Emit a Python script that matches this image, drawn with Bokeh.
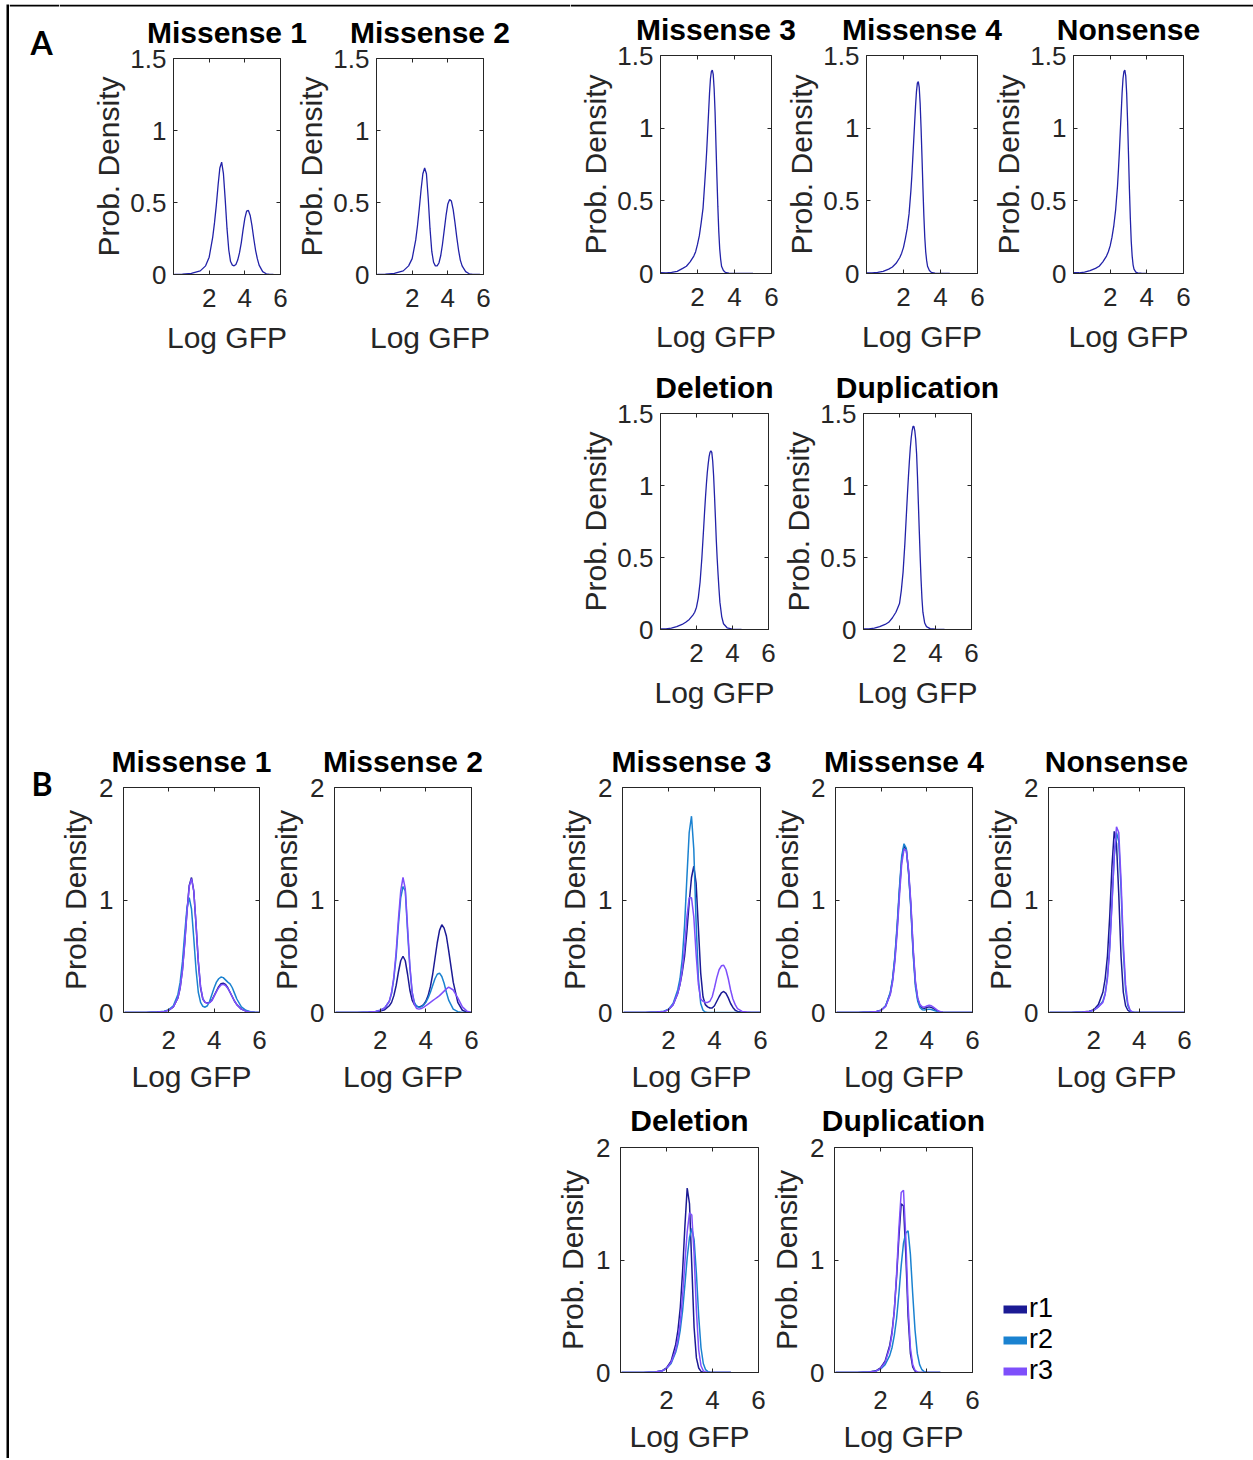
from bokeh.plotting import figure
from bokeh.models import (Range1d, FixedTicker, LinearAxis, Legend, LegendItem,
                          Spacer, NumeralTickFormatter)
from bokeh.core.properties import value
from bokeh.layouts import row, column
from bokeh.embed import file_html
from bokeh.resources import INLINE

nan = float("nan")

# ---------------- data ----------------
PANEL_TITLES = ["Missense 1", "Missense 2", "Missense 3", "Missense 4",
                "Nonsense", "Deletion", "Duplication"]
REPLICATES = ["r1", "r2", "r3"]
X_TICKS = [2, 4, 6]
A_Y_TICKS = [0, 0.5, 1, 1.5]
B_Y_TICKS = [0, 1, 2]

# Panel A (pooled densities)
A_BI_X = [0.05, 0.5, 1.0, 1.5, 1.8, 2.0, 2.2, 2.3, 2.4, 2.5, 2.6, 2.7, 2.8, 2.9, 3.0,
          3.1, 3.2, 3.3, 3.4, 3.5, 3.6, 3.7, 3.8, 3.9, 4.0, 4.1, 4.2, 4.3, 4.4, 4.5,
          4.6, 4.7, 4.8, 5.0, 5.2, 5.4, 5.6, 5.8]
A_MIS1_Y = [0.0, 0.002, 0.008, 0.025, 0.06, 0.12, 0.26, 0.36, 0.48, 0.62, 0.74, 0.78,
            0.70, 0.52, 0.32, 0.17, 0.09, 0.065, 0.06, 0.07, 0.10, 0.15, 0.22, 0.31,
            0.39, 0.44, 0.445, 0.41, 0.34, 0.25, 0.17, 0.11, 0.065, 0.02, 0.005,
            0.001, 0.0, nan]
A_MIS2_Y = [0.0, 0.002, 0.008, 0.025, 0.06, 0.11, 0.24, 0.34, 0.46, 0.59, 0.70, 0.74,
            0.70, 0.53, 0.32, 0.16, 0.085, 0.06, 0.06, 0.08, 0.13, 0.21, 0.31, 0.41,
            0.49, 0.52, 0.51, 0.45, 0.36, 0.26, 0.17, 0.10, 0.06, 0.02, 0.005,
            0.001, 0.0, 0.0]

A_UNI_X = [0.02, 0.3, 0.6, 0.9, 1.2, 1.4, 1.6, 1.8, 1.9, 2.0, 2.1, 2.2, 2.3, 2.4, 2.45,
           2.5, 2.55, 2.6, 2.65, 2.7, 2.75, 2.8, 2.85, 2.9, 2.95, 3.0, 3.05, 3.1, 3.15,
           3.2, 3.25, 3.3, 3.4, 3.5, 3.7, 4.0, 4.5, 5.0]
A_MIS3_Y = [0.005, 0.004, 0.008, 0.015, 0.035, 0.05, 0.08, 0.12, 0.15, 0.20, 0.26, 0.35,
            0.45, 0.64, 0.74, 0.85, 0.98, 1.11, 1.24, 1.34, 1.39, 1.40, 1.37, 1.27,
            1.11, 0.88, 0.66, 0.46, 0.29, 0.17, 0.10, 0.05, 0.02, 0.008, 0.003,
            0.001, 0.0, 0.0]
A_MIS4_Y = [0.004, 0.004, 0.008, 0.015, 0.03, 0.045, 0.07, 0.11, 0.14, 0.18, 0.24, 0.31,
            0.41, 0.57, 0.67, 0.79, 0.91, 1.03, 1.15, 1.25, 1.31, 1.32, 1.28, 1.17,
            1.00, 0.80, 0.59, 0.40, 0.25, 0.15, 0.09, 0.05, 0.02, 0.008, 0.003,
            0.001, 0.0, nan]
A_NON_Y = [0.005, 0.005, 0.01, 0.02, 0.035, 0.05, 0.08, 0.12, 0.15, 0.19, 0.25, 0.33,
           0.44, 0.60, 0.71, 0.83, 0.97, 1.10, 1.24, 1.34, 1.39, 1.40, 1.36, 1.24,
           1.05, 0.82, 0.58, 0.38, 0.22, 0.12, 0.06, 0.03, 0.01, 0.004, 0.002,
           0.001, nan, nan]
A_DEL_Y = [0.004, 0.005, 0.01, 0.02, 0.035, 0.05, 0.07, 0.10, 0.12, 0.155, 0.22, 0.33,
           0.50, 0.71, 0.82, 0.92, 1.01, 1.09, 1.15, 1.20, 1.23, 1.24, 1.23, 1.17,
           1.07, 0.93, 0.78, 0.62, 0.49, 0.38, 0.28, 0.19, 0.09, 0.04, 0.012,
           0.003, 0.001, nan]
A_DUP_Y = [0.004, 0.005, 0.01, 0.02, 0.035, 0.05, 0.08, 0.12, 0.15, 0.18, 0.27, 0.40,
           0.60, 0.84, 0.96, 1.07, 1.17, 1.26, 1.33, 1.38, 1.41, 1.41, 1.38, 1.32,
           1.22, 1.06, 0.87, 0.68, 0.50, 0.34, 0.21, 0.12, 0.045, 0.02, 0.006,
           0.002, 0.001, nan]

# Panel B (replicates r1, r2, r3)
B_X = [0.05, 0.5, 1.0, 1.5, 1.8, 2.0, 2.2, 2.4, 2.5, 2.6, 2.7, 2.8, 2.9, 3.0, 3.1,
       3.2, 3.3, 3.4, 3.5, 3.6, 3.7, 3.8, 3.9, 4.0, 4.1, 4.2, 4.3, 4.4, 4.5, 4.6,
       4.7, 4.8, 4.9, 5.0, 5.2, 5.4, 5.6, 5.8, 6.0]
B_MIS1_R1 = [0, 0, 0.001, 0.004, 0.01, 0.02, 0.05, 0.13, 0.22, 0.38, 0.62, 0.90, 1.13,
             1.20, 1.08, 0.78, 0.45, 0.22, 0.12, 0.09, 0.085, 0.09, 0.11, 0.15, 0.19,
             0.23, 0.255, 0.26, 0.25, 0.22, 0.18, 0.14, 0.10, 0.07, 0.03, 0.012,
             0.004, 0.001, 0]
B_MIS1_R2 = [0, 0, 0.001, 0.005, 0.012, 0.025, 0.06, 0.16, 0.27, 0.45, 0.70, 0.93, 1.02,
             0.92, 0.66, 0.38, 0.18, 0.09, 0.055, 0.047, 0.06, 0.10, 0.16, 0.22, 0.27,
             0.30, 0.315, 0.31, 0.29, 0.27, 0.255, 0.22, 0.17, 0.12, 0.05, 0.02,
             0.006, 0.002, 0]
B_MIS1_R3 = [0, 0, 0.001, 0.004, 0.01, 0.02, 0.05, 0.13, 0.22, 0.37, 0.61, 0.89, 1.12,
             1.19, 1.08, 0.79, 0.46, 0.23, 0.12, 0.09, 0.082, 0.088, 0.105, 0.145,
             0.185, 0.22, 0.245, 0.25, 0.24, 0.215, 0.18, 0.14, 0.10, 0.07, 0.03,
             0.012, 0.004, 0.001, 0]
B_MIS2_R1 = [0, 0, 0.001, 0.003, 0.007, 0.012, 0.025, 0.06, 0.09, 0.15, 0.24, 0.36, 0.46,
             0.50, 0.46, 0.34, 0.20, 0.11, 0.07, 0.055, 0.05, 0.055, 0.07, 0.10, 0.15,
             0.23, 0.34, 0.48, 0.62, 0.73, 0.78, 0.75, 0.68, 0.55, 0.27, 0.09, 0.02,
             0.003, 0]
B_MIS2_R2 = [0, 0, 0.001, 0.004, 0.01, 0.02, 0.04, 0.10, 0.17, 0.30, 0.50, 0.78, 1.02,
             1.12, 1.08, 0.72, 0.40, 0.18, 0.09, 0.055, 0.047, 0.05, 0.065, 0.09, 0.13,
             0.18, 0.24, 0.30, 0.34, 0.35, 0.32, 0.26, 0.18, 0.11, 0.03, 0.007, 0.001,
             0, 0]
B_MIS2_R3 = [0, 0, 0.001, 0.004, 0.01, 0.02, 0.04, 0.10, 0.18, 0.32, 0.54, 0.83, 1.08,
             1.20, 1.10, 0.76, 0.42, 0.18, 0.07, 0.035, 0.03, 0.035, 0.045, 0.06, 0.075,
             0.09, 0.105, 0.12, 0.135, 0.15, 0.17, 0.19, 0.21, 0.225, 0.20, 0.13, 0.05,
             0.012, 0]
B_MIS3_R1 = [0, 0, 0.001, 0.004, 0.01, 0.025, 0.07, 0.17, 0.25, 0.36, 0.50, 0.72, 0.98,
             1.20, 1.30, 1.15, 0.75, 0.35, 0.14, 0.07, 0.05, 0.04, 0.04, 0.06, 0.10,
             0.14, 0.175, 0.187, 0.17, 0.13, 0.08, 0.045, 0.02, 0.01, 0.003, 0.001,
             0, 0, 0]
B_MIS3_R2 = [0, 0, 0.001, 0.005, 0.012, 0.03, 0.08, 0.20, 0.30, 0.48, 0.78, 1.20, 1.60,
             1.745, 1.45, 0.80, 0.30, 0.08, 0.02, 0.004, 0.001, 0, 0, 0, 0, 0, 0, 0,
             0, 0, 0, 0, 0, 0, 0, 0, 0, 0, 0]
B_MIS3_R3 = [0, 0, 0.001, 0.004, 0.01, 0.025, 0.07, 0.17, 0.25, 0.38, 0.58, 0.85, 1.02,
             1.02, 0.85, 0.52, 0.25, 0.12, 0.10, 0.09, 0.09, 0.10, 0.14, 0.22, 0.31,
             0.38, 0.415, 0.42, 0.38, 0.30, 0.20, 0.12, 0.07, 0.035, 0.01, 0.004,
             0.001, 0, 0]
B_MIS4_R1 = [0, 0, 0.001, 0.004, 0.01, 0.02, 0.06, 0.17, 0.29, 0.48, 0.75, 1.08, 1.36,
             1.48, 1.45, 1.25, 0.95, 0.55, 0.26, 0.12, 0.06, 0.04, 0.038, 0.045, 0.05,
             0.045, 0.035, 0.02, 0.01, 0.005, 0.002, 0.001, 0, 0, 0, 0, 0, 0, 0]
B_MIS4_R2 = [0, 0, 0.001, 0.004, 0.01, 0.02, 0.06, 0.18, 0.30, 0.50, 0.78, 1.11, 1.39,
             1.50, 1.46, 1.24, 0.92, 0.52, 0.23, 0.10, 0.045, 0.025, 0.022, 0.026, 0.03,
             0.026, 0.02, 0.012, 0.006, 0.003, 0.001, 0, 0, 0, 0, 0, 0, 0, 0]
B_MIS4_R3 = [0, 0, 0.001, 0.004, 0.01, 0.02, 0.055, 0.16, 0.27, 0.45, 0.71, 1.03, 1.32,
             1.45, 1.44, 1.27, 0.98, 0.58, 0.28, 0.13, 0.07, 0.05, 0.048, 0.058, 0.065,
             0.06, 0.045, 0.03, 0.015, 0.007, 0.003, 0.001, 0, 0, 0, 0, 0, 0, 0]
B_NON_R1 = [0, 0, 0.001, 0.005, 0.012, 0.025, 0.07, 0.18, 0.30, 0.50, 0.85, 1.30, 1.61,
            1.50, 1.05, 0.50, 0.18, 0.06, 0.02, 0.005, 0.001, 0, 0, 0, 0, 0, 0, 0, 0,
            0, 0, 0, 0, 0, 0, 0, 0, 0, 0]
B_NON_R2 = [0, 0, 0.001, 0.004, 0.01, 0.02, 0.05, 0.10, 0.17, 0.32, 0.58, 0.98, 1.38,
            1.60, 1.52, 1.10, 0.55, 0.20, 0.06, 0.015, 0.004, 0.001, 0, 0, 0, 0, 0, 0,
            0, 0, 0, 0, 0, 0, 0, 0, 0, 0, 0]
B_NON_R3 = [0, 0, 0.001, 0.004, 0.01, 0.02, 0.05, 0.09, 0.16, 0.30, 0.56, 0.96, 1.40,
            1.65, 1.60, 1.18, 0.62, 0.25, 0.08, 0.02, 0.005, 0.001, 0, 0, 0, 0, 0, 0,
            0, 0, 0, 0, 0, 0, 0, 0, 0, 0, 0]
B_DEL_R1 = [0, 0, 0.001, 0.005, 0.015, 0.04, 0.10, 0.25, 0.38, 0.58, 0.90, 1.30, 1.64,
            1.50, 0.95, 0.40, 0.13, 0.04, 0.01, 0.003, 0.001, 0, 0, 0, 0, 0, 0, 0, 0,
            0, 0, 0, nan, nan, nan, nan, nan, nan, nan]
B_DEL_R2 = [0, 0, 0.001, 0.005, 0.013, 0.035, 0.08, 0.18, 0.26, 0.38, 0.55, 0.78, 1.02,
            1.20, 1.28, 1.18, 0.88, 0.50, 0.22, 0.08, 0.025, 0.008, 0.002, 0, 0, 0, 0,
            0, 0, 0, 0, 0, nan, nan, nan, nan, nan, nan, nan]
B_DEL_R3 = [0, 0, 0.001, 0.005, 0.013, 0.035, 0.09, 0.20, 0.30, 0.45, 0.68, 0.98, 1.25,
            1.42, 1.40, 1.05, 0.55, 0.20, 0.06, 0.015, 0.004, 0.001, 0, 0, 0, 0, 0, 0,
            0, 0, 0, 0, nan, nan, nan, nan, nan, nan, nan]
B_DUP_R1 = [0, 0, 0.001, 0.005, 0.015, 0.04, 0.10, 0.24, 0.36, 0.55, 0.85, 1.20, 1.50,
            1.48, 1.05, 0.50, 0.17, 0.05, 0.012, 0.003, 0.001, 0, 0, 0, 0, 0, 0, 0, 0,
            0, nan, nan, nan, nan, nan, nan, nan, nan, nan]
B_DUP_R2 = [0, 0, 0.001, 0.004, 0.012, 0.03, 0.07, 0.15, 0.22, 0.33, 0.48, 0.70, 0.95,
            1.15, 1.24, 1.26, 1.05, 0.70, 0.38, 0.17, 0.07, 0.025, 0.008, 0.002, 0, 0,
            0, 0, 0, 0, nan, nan, nan, nan, nan, nan, nan, nan, nan]
B_DUP_R3 = [0, 0, 0.001, 0.004, 0.012, 0.035, 0.09, 0.22, 0.34, 0.55, 0.88, 1.28, 1.60,
            1.62, 1.20, 0.60, 0.22, 0.07, 0.02, 0.005, 0.001, 0, 0, 0, 0, 0, 0, 0, 0,
            0, nan, nan, nan, nan, nan, nan, nan, nan, nan]

# ---------------- styling ----------------
A_COLOR = "#2222a8"
REP_COLORS = ["#1b1a94", "#1a82d0", "#7e4ffb"]
FONT = "Liberation Sans"
GRAY = "#262626"
CONTENT_W = 1244
CONTENT_X = 9          # page x of the content column


def bare(w, h, bg="white", top_line=False):
    f = figure(width=w, height=h, min_border=0, x_axis_location=None,
               y_axis_location=None, title_location=None, outline_line_color=None,
               x_range=Range1d(0, w), y_range=Range1d(0, h),
               background_fill_color=bg, border_fill_color=bg,
               output_backend="svg", toolbar_location=None)
    f.grid.visible = False
    if top_line:   # the figure's black frame rule along the top edge
        f.quad(left=[0], right=[w], bottom=[h - 2], top=[h], fill_color="black",
               line_color=None)
    return f


def tick_only_axis(ticks):
    return LinearAxis(ticker=FixedTicker(ticks=ticks), major_tick_in=4, major_tick_out=0,
                      minor_tick_in=0, minor_tick_out=0, axis_line_color=None,
                      major_tick_line_color=GRAY, major_label_text_font_size="1px",
                      major_label_text_color=None, major_label_standoff=0)


def panel(fw, fh, bl, br, bt, bb, ymax, yticks, big):
    p = figure(frame_width=fw, frame_height=fh,
               x_range=Range1d(0, 6), y_range=Range1d(0, ymax),
               min_border_left=bl, min_border_right=br,
               min_border_top=bt, min_border_bottom=bb, title_location=None,
               output_backend="svg", toolbar_location=None)
    p.grid.visible = False
    p.outline_line_color = GRAY
    for ax in (p.xaxis[0], p.yaxis[0]):
        ax.major_tick_in = 4
        ax.major_tick_out = 0
        ax.minor_tick_in = 0
        ax.minor_tick_out = 0
        ax.axis_line_color = GRAY
        ax.major_tick_line_color = GRAY
        ax.major_label_text_font = FONT
        ax.major_label_text_font_size = "26px"
        ax.major_label_text_color = GRAY
        ax.axis_label_text_font = FONT
        ax.axis_label_text_font_size = "30px"
        ax.axis_label_text_font_style = "normal"
        ax.axis_label_text_color = GRAY
    p.xaxis.ticker = FixedTicker(ticks=X_TICKS)
    p.xaxis.axis_label = "Log GFP"
    p.xaxis.major_label_standoff = 18 if big else 14
    p.xaxis.axis_label_standoff = 8 if big else 11
    p.yaxis.ticker = FixedTicker(ticks=yticks)
    p.yaxis.formatter = NumeralTickFormatter(format="0.[0]")
    p.yaxis.axis_label = "Prob. Density"
    p.yaxis.major_label_standoff = 10 if big else 7
    p.yaxis.axis_label_standoff = 4 if big else 2
    p.add_layout(tick_only_axis(X_TICKS), "above")
    p.add_layout(tick_only_axis(yticks), "right")
    return p


def strip(width, height, origin_x, items, top_line=False):
    """Row of panel titles; items are (title, frame_left_page_x, frame_width, baseline_from_bottom)."""
    s = bare(width, height, top_line=top_line)
    xs = [left + w / 2.0 - origin_x for _, left, w, _ in items]
    ys = [b + 10.5 for _, _, _, b in items]      # glyph middle sits ~10.5 px over the baseline
    s.text(x=xs, y=ys, text=[t for t, _, _, _ in items], text_align="center",
           text_baseline="middle", text_font=value(FONT), text_font_size="30px",
           text_font_style="bold", text_color="black")
    return s


def gutter(width, height, ch, x_left, y_mid, top_line=False):
    g = bare(width, height, top_line=top_line)
    g.text(x=[x_left], y=[y_mid], text=[ch], text_align="left", text_baseline="middle",
           text_font=value("Lato"), text_font_size="32px", text_font_style="bold",
           text_color="black")
    return g


# ---------------- panel A ----------------
a_m1 = panel(107, 216, 114, 10, 10, 86, 1.5, A_Y_TICKS, False)
a_m1.line(A_BI_X, A_MIS1_Y, line_color=A_COLOR, line_width=1.3)
a_m2 = panel(107, 216, 86, 10, 10, 86, 1.5, A_Y_TICKS, False)
a_m2.line(A_BI_X, A_MIS2_Y, line_color=A_COLOR, line_width=1.3)
a_m3 = panel(111, 218, 90, 8, 9, 87, 1.5, A_Y_TICKS, False)
a_m3.line(A_UNI_X, A_MIS3_Y, line_color=A_COLOR, line_width=1.3)
a_m4 = panel(111, 218, 87, 8, 9, 87, 1.5, A_Y_TICKS, False)
a_m4.line(A_UNI_X, A_MIS4_Y, line_color=A_COLOR, line_width=1.3)
a_ns = panel(110, 218, 88, 8, 9, 87, 1.5, A_Y_TICKS, False)
a_ns.line(A_UNI_X, A_NON_Y, line_color=A_COLOR, line_width=1.3)
a_del = panel(108, 216, 90, 8, 10, 91, 1.5, A_Y_TICKS, False)
a_del.line(A_UNI_X, A_DEL_Y, line_color=A_COLOR, line_width=1.3)
a_dup = panel(108, 216, 87, 8, 10, 91, 1.5, A_Y_TICKS, False)
a_dup.line(A_UNI_X, A_DUP_Y, line_color=A_COLOR, line_width=1.3)


# ---------------- panel B ----------------
def b_panel(fw, bl, br, bt, bb, series):
    p = panel(fw, 225, bl, br, bt, bb, 2, B_Y_TICKS, True)
    for ys, c in zip(series, REP_COLORS):
        p.line(B_X, ys, line_color=c, line_width=1.5)
    return p

b_m1 = b_panel(136, 68, 8, 10, 88, [B_MIS1_R1, B_MIS1_R2, B_MIS1_R3])
b_m2 = b_panel(137, 67, 8, 10, 88, [B_MIS2_R1, B_MIS2_R2, B_MIS2_R3])
b_m3 = b_panel(138, 72, 8, 10, 88, [B_MIS3_R1, B_MIS3_R2, B_MIS3_R3])
b_m4 = b_panel(137, 67, 8, 10, 88, [B_MIS4_R1, B_MIS4_R2, B_MIS4_R3])
b_ns = b_panel(136, 68, 8, 10, 88, [B_NON_R1, B_NON_R2, B_NON_R3])
b_del = b_panel(138, 72, 8, 10, 84, [B_DEL_R1, B_DEL_R2, B_DEL_R3])
b_dup = b_panel(138, 68, 8, 10, 84, [B_DUP_R1, B_DUP_R2, B_DUP_R3])

# legend box beside the last panel (proxy lines sit outside the visible range)
leg_fig = bare(90, 100)
swatches = [leg_fig.line(x=[-30, -20], y=[-30, -30], line_color=c, line_width=8)
            for c in REP_COLORS]
legend = Legend(items=[LegendItem(label=lab, renderers=[r])
                       for lab, r in zip(REPLICATES, swatches)],
                location=(23, 4), glyph_width=24, glyph_height=30,
                label_text_font=FONT, label_text_font_size="27px",
                label_text_color="black", label_standoff=2, spacing=0,
                padding=0, margin=0, border_line_color=None,
                background_fill_alpha=0, label_height=30)
leg_fig.add_layout(legend)

# ---------------- title strips and panel letters ----------------
GUT_A = 50
GUT_B = 46
LEFT_W = 570 - CONTENT_X - GUT_A          # left group of panel A, top row
RIGHT_W = CONTENT_W - GUT_A - LEFT_W       # right group of panel A, top row
strip_a1_l = strip(LEFT_W, 44, CONTENT_X + GUT_A, [
    (PANEL_TITLES[0], 173, 107, 6), (PANEL_TITLES[1], 376, 107, 6)], top_line=True)
strip_a1_r = strip(RIGHT_W, 42, 570, [
    (PANEL_TITLES[2], 660, 111, 6.5), (PANEL_TITLES[3], 866, 111, 6.5),
    (PANEL_TITLES[4], 1073, 110, 6.5)], top_line=True)
strip_a2 = strip(CONTENT_W, 43, CONTENT_X, [
    (PANEL_TITLES[5], 660, 108, 6), (PANEL_TITLES[6], 863, 108, 6)])
strip_b1 = strip(CONTENT_W - GUT_B, 57, CONTENT_X + GUT_B, [
    (PANEL_TITLES[0], 123, 136, 6), (PANEL_TITLES[1], 334, 137, 6),
    (PANEL_TITLES[2], 622, 138, 6), (PANEL_TITLES[3], 835, 137, 6),
    (PANEL_TITLES[4], 1048, 136, 6)])
strip_b2 = strip(CONTENT_W, 37, CONTENT_X, [
    (PANEL_TITLES[5], 620, 138, 6.5), (PANEL_TITLES[6], 834, 138, 6.5)])

gut_a = gutter(GUT_A, 356, "A", 21, 356 - 38, top_line=True)
gut_b = gutter(GUT_B, 380, "B", 22, 380 - 63)

# ---------------- layout ----------------
row_a1 = row(gut_a,
             column(strip_a1_l, row(a_m1, a_m2)),
             column(strip_a1_r, row(a_m3, a_m4, a_ns)))
block_a2 = column(strip_a2, row(Spacer(width=561), a_del, a_dup))
row_b1 = row(gut_b, column(strip_b1, row(b_m1, b_m2, Spacer(width=71), b_m3, b_m4, b_ns)))
block_b2 = column(strip_b2, row(Spacer(width=539), b_del, b_dup,
                                 column(Spacer(height=153), leg_fig)))
content = column(row_a1, block_a2, row_b1, block_b2)

page = column(Spacer(height=4),
              row(Spacer(width=6), bare(3, 1454, "black"), content))

html = file_html(page, INLINE)
html = html.replace("<body>", '<body style="margin:0;">', 1)
open("out.html", "w").write(html)
